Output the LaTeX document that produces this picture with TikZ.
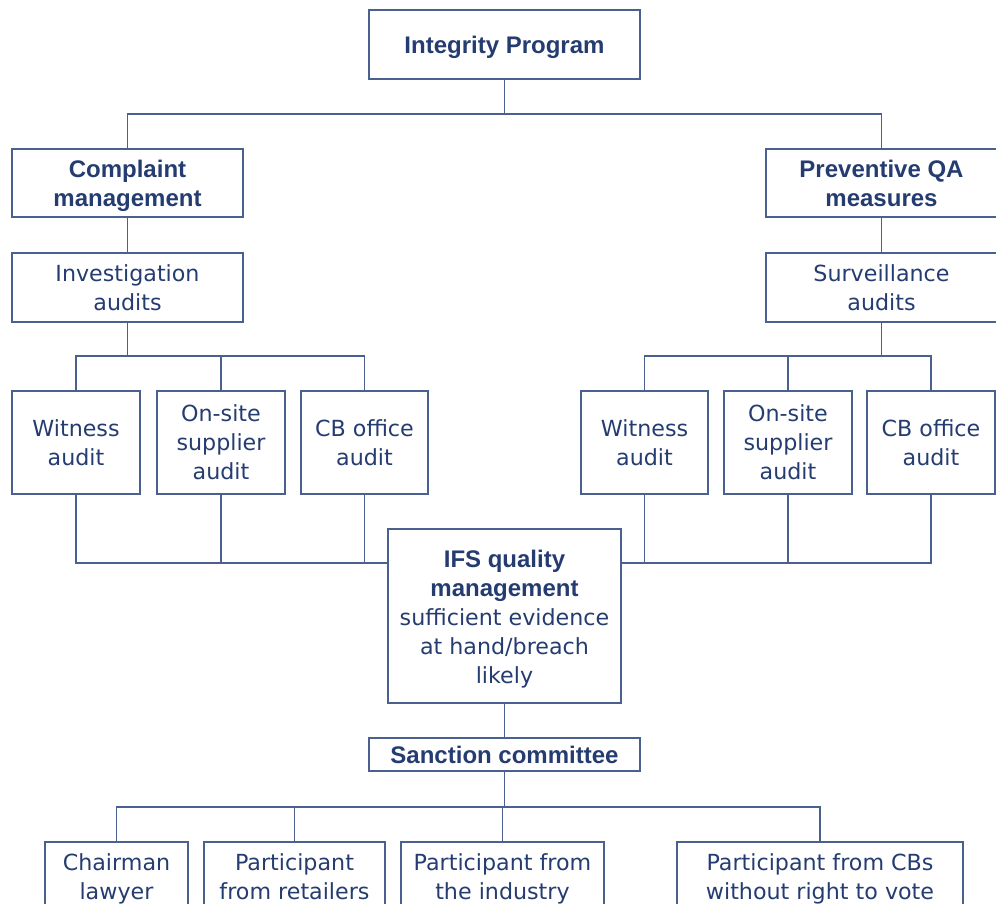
\documentclass[tikz,border=0pt]{standalone}
\usepackage{fontspec}
\setmainfont{DejaVu Sans}
\newfontfamily\libfam{Liberation Sans}
\definecolor{txtblue}{RGB}{36,60,112}
\definecolor{lnblue}{RGB}{74,96,142}
\newcommand\fregular{\fontsize{22.2}{29}\selectfont}
\newcommand\fbold{\libfam\bfseries\fontsize{24}{29}\selectfont}
\newcommand\topstrut{\rule{0pt}{23pt}}
\newcommand\firststrut{\rule{0pt}{17pt}}
\newcommand\laststrut{\rule[-5pt]{0pt}{0pt}}
\tikzset{
  box/.style={draw=lnblue, line width=1.5pt, rectangle, inner sep=0pt, align=center,
    text=txtblue, font=\fregular},
  conn/.style={draw=lnblue, line width=1.5pt},
}
\begin{document}
\begin{tikzpicture}[x=1pt, y=-1pt]
\useasboundingbox (0,0) rectangle (996,903);
\clip (0,0) rectangle (996,903);
% level 0
\node[box, minimum width=271pt, minimum height=69pt] (top) at (504.5,44.5) {\fbold\topstrut Integrity Program};
% level 1
\node[box, minimum width=231pt, minimum height=68pt] (cm) at (127.5,183) {\fbold\topstrut Complaint\\\fbold management};
\node[box, minimum width=231pt, minimum height=68pt] (pqa) at (881.5,183) {\fbold Preventive QA\\\fbold measures};
\node[box, minimum width=231pt, minimum height=69pt] (inv) at (127.5,287.5) {Investigation\\audits};
\node[box, minimum width=231pt, minimum height=69pt] (surv) at (881.5,287.5) {Surveillance\\audits};
% audits left
\node[box, minimum width=128pt, minimum height=103pt] (lw) at (76,442.5) {Witness\\audit};
\node[box, minimum width=128pt, minimum height=103pt] (lo) at (221,442.5) {On-site\\supplier\\audit};
\node[box, minimum width=127pt, minimum height=103pt] (lc) at (364.5,442.5) {CB office\\audit};
% audits right
\node[box, minimum width=127pt, minimum height=103pt] (rw) at (644.5,442.5) {Witness\\audit};
\node[box, minimum width=128pt, minimum height=103pt] (ro) at (788,442.5) {On-site\\supplier\\audit};
\node[box, minimum width=128pt, minimum height=103pt] (rc) at (931,442.5) {CB office\\audit};
% IFS
\node[box, minimum width=233pt, minimum height=174pt] (ifs) at (504.5,616) {{\fbold\topstrut IFS quality}\\{\fbold management}\\sufficient evidence\\at hand/breach\\likely};
\node[box, minimum width=271pt, minimum height=33pt] (sanc) at (504.5,754.5) {\fbold Sanction committee};
% bottom
\node[box, minimum width=143pt, minimum height=74pt] (b1) at (116.5,879) {\firststrut Chairman\\lawyer\laststrut};
\node[box, minimum width=181pt, minimum height=74pt] (b2) at (294.5,879) {\firststrut Participant\\from retailers\laststrut};
\node[box, minimum width=203pt, minimum height=74pt] (b3) at (502.5,879) {\firststrut Participant from\\the industry\laststrut};
\node[box, minimum width=286pt, minimum height=74pt] (b4) at (820,879) {\firststrut Participant from CBs\\without right to vote\laststrut};
% bus coordinates
\coordinate (bus0) at (0,114);
\coordinate (bus1) at (0,356);
\coordinate (bus2) at (0,563);
\coordinate (bus3) at (0,807);
% connectors
\draw[conn] (top.south) -- (top.south |- bus0);
\draw[conn] (cm.north) |- (pqa.north |- bus0) -- (pqa.north);
\draw[conn] (cm.south) -- (inv.north);
\draw[conn] (pqa.south) -- (surv.north);
\draw[conn] (inv.south) -- (inv.south |- bus1);
\draw[conn] (lw.north) |- (lc.north |- bus1) -- (lc.north);
\draw[conn] (lo.north) -- (lo.north |- bus1);
\draw[conn] (surv.south) -- (surv.south |- bus1);
\draw[conn] (rw.north) |- (rc.north |- bus1) -- (rc.north);
\draw[conn] (ro.north) -- (ro.north |- bus1);
\draw[conn] (lw.south) |- (ifs.west |- bus2);
\draw[conn] (lo.south) -- (lo.south |- bus2);
\draw[conn] (lc.south) -- (lc.south |- bus2);
\draw[conn] (rc.south) |- (ifs.east |- bus2);
\draw[conn] (rw.south) -- (rw.south |- bus2);
\draw[conn] (ro.south) -- (ro.south |- bus2);
\draw[conn] (ifs.south) -- (sanc.north);
\draw[conn] (sanc.south) -- (sanc.south |- bus3);
\draw[conn] (b1.north) |- (b4.north |- bus3) -- (b4.north);
\draw[conn] (b2.north) -- (b2.north |- bus3);
\draw[conn] (b3.north) -- (b3.north |- bus3);
\end{tikzpicture}
\end{document}
